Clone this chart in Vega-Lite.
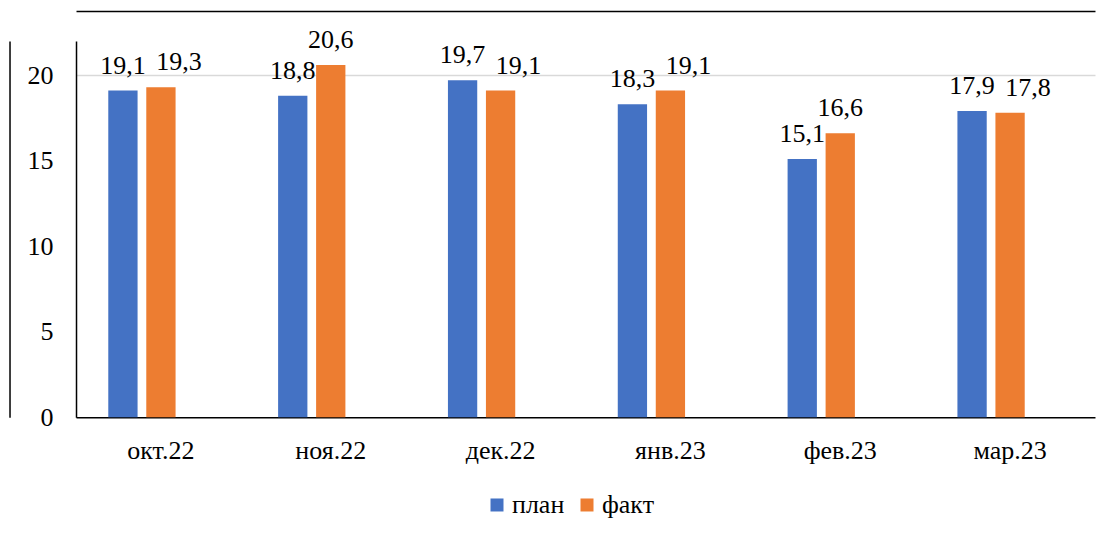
{
  "$schema": "https://vega.github.io/schema/vega-lite/v6.json",
  "width": 1019,
  "height": 376.2,
  "autosize": {"type": "none"},
  "padding": {"left": 76, "top": 41, "right": 15, "bottom": 118},
  "background": "white",
  "config": {
    "locale": {"number": {"decimal": ",", "thousands": " ", "grouping": [3], "currency": ["", ""]}},
    "view": {"stroke": null},
    "font": "Liberation Serif",
    "axis": {"labelFont": "Liberation Serif", "labelColor": "black", "labelFontSize": 26},
    "legend": {"labelFont": "Liberation Serif", "labelColor": "black", "labelFontSize": 26}
  },
  "data": {
    "values": [
      {"month": "окт.22", "series": "план", "value": 19.1},
      {"month": "окт.22", "series": "факт", "value": 19.3},
      {"month": "ноя.22", "series": "план", "value": 18.8},
      {"month": "ноя.22", "series": "факт", "value": 20.6},
      {"month": "дек.22", "series": "план", "value": 19.7},
      {"month": "дек.22", "series": "факт", "value": 19.1},
      {"month": "янв.23", "series": "план", "value": 18.3},
      {"month": "янв.23", "series": "факт", "value": 19.1},
      {"month": "фев.23", "series": "план", "value": 15.1},
      {"month": "фев.23", "series": "факт", "value": 16.6},
      {"month": "мар.23", "series": "план", "value": 17.9},
      {"month": "мар.23", "series": "факт", "value": 17.8}
    ]
  },
  "layer": [
    {
      "mark": {"type": "bar"},
      "encoding": {
        "x": {
          "field": "month", "type": "nominal", "sort": null,
          "scale": {"paddingInner": 0.38, "paddingOuter": 0.19},
          "axis": {"title": null, "labelAngle": 0, "ticks": false, "tickSize": 0, "labelPadding": 41, "labelBaseline": "alphabetic", "domainColor": "black", "domainWidth": 1.5, "grid": false}
        },
        "xOffset": {
          "field": "series", "type": "nominal",
          "scale": {"domain": ["план", "факт", "_"], "paddingInner": 0.229, "paddingOuter": 0}
        },
        "y": {
          "field": "value", "type": "quantitative",
          "scale": {"domain": [0, 22], "nice": false},
          "axis": {"title": null, "values": [0, 5, 10, 15, 20], "ticks": false, "tickSize": 0, "labelPadding": 23, "labelBaseline": "middle", "domainColor": "black", "domainWidth": 1.5,
                   "grid": true, "gridColor": "#d9d9d9", "gridWidth": 1.5,
                   "gridOpacity": {"condition": {"test": "datum.value === 20", "value": 1}, "value": 0}}
        },
        "color": {
          "field": "series", "type": "nominal",
          "scale": {"domain": ["план", "факт"], "range": ["#4472c4", "#ed7d31"]},
          "legend": {"title": null, "orient": "none", "direction": "horizontal", "legendX": 408, "legendY": 451,
                     "symbolType": "square", "symbolSize": 169, "symbolStrokeWidth": 0, "labelOffset": 2, "columnPadding": 9}
        }
      }
    },
    {
      "transform": [
        {"joinaggregate": [{"op": "sum", "field": "value", "as": "total"}], "groupby": ["month"]}
      ],
      "mark": {"type": "text", "baseline": "alphabetic", "dy": -17, "fontSize": 26, "font": "Liberation Serif", "color": "black",
               "dx": {"expr": "datum.series === 'факт' && abs(2 * datum.value - datum.total) < 1 ? 18 : 0"}},
      "encoding": {
        "x": {"field": "month", "type": "nominal", "sort": null,
              "axis": {"orient": "top", "offset": 30, "labels": false, "ticks": false, "grid": false, "title": null, "domainColor": "black", "domainWidth": 1.5}},
        "xOffset": {"field": "series", "type": "nominal"},
        "y": {"field": "value", "type": "quantitative",
              "axis": {"orient": "left", "offset": 66.5, "labels": false, "ticks": false, "grid": false, "title": null, "domainColor": "black", "domainWidth": 1.5}},
        "text": {"field": "value", "type": "quantitative", "format": ".1f"}
      }
    }
  ],
  "resolve": {"axis": {"x": "independent", "y": "independent"}}
}
